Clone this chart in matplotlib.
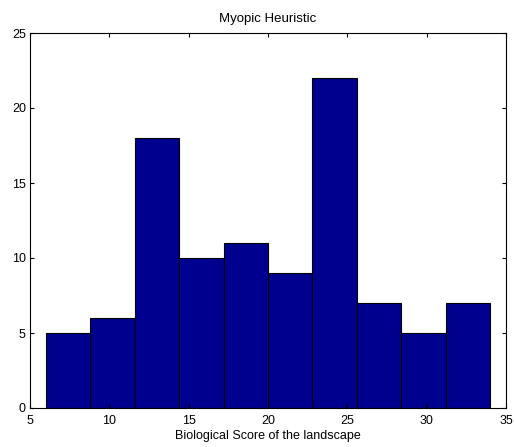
import numpy as np
import matplotlib.pyplot as plt

plt.rcParams['font.family'] = ['Liberation Sans', 'DejaVu Sans']

# histogram counts, 10 bins from 6 to 34
counts = [5, 6, 18, 10, 11, 9, 22, 7, 5, 7]
edges = np.linspace(6, 34, len(counts) + 1)
x_ticks = [5, 10, 15, 20, 25, 30, 35]
y_ticks = [0, 5, 10, 15, 20, 25]

fig = plt.figure(figsize=(5.14, 4.47), dpi=100)
ax = fig.add_axes([30 / 514, 39 / 447, 476 / 514, 375 / 447])

ax.bar(edges[:-1], counts, width=np.diff(edges), align='edge',
       color='#00008F', edgecolor='black', linewidth=0.8)

ax.set_xlim(5, 35)
ax.set_ylim(0, 25)
ax.set_xticks(x_ticks)
ax.set_yticks(y_ticks)
ax.tick_params(direction='in', top=True, right=True, length=3, labelsize=9, pad=3)
ax.tick_params(axis='x', pad=5)
for s in ax.spines.values():
    s.set_linewidth(0.8)

ax.set_title('Myopic Heuristic', fontsize=9.5, pad=8)
ax.set_xlabel('Biological Score of the landscape', fontsize=9, labelpad=2)

fig.savefig('out.png', dpi=100)
